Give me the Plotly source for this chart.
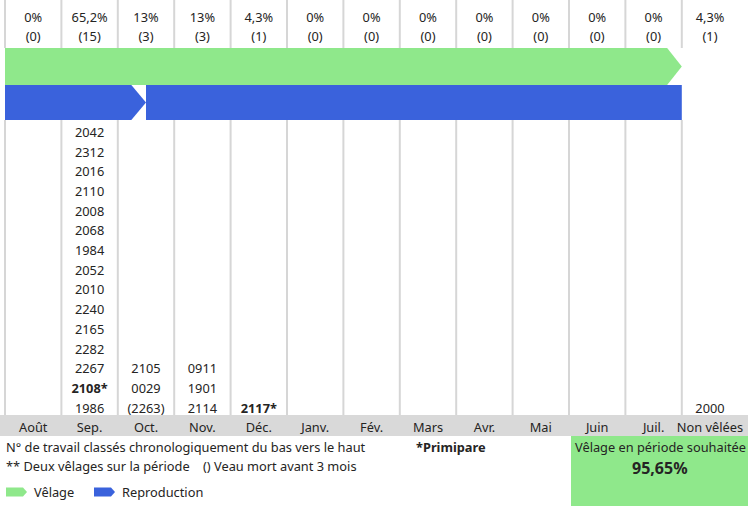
import plotly.graph_objects as go

months = ["Août", "Sep.", "Oct.", "Nov.", "Déc.", "Janv.", "Fév.", "Mars",
          "Avr.", "Mai", "Juin", "Juil.", "Non vêlées"]
pct_labels = ["0%", "65,2%", "13%", "13%", "4,3%", "0%", "0%", "0%",
              "0%", "0%", "0%", "0%", "4,3%"]
counts = [0, 15, 3, 3, 1, 0, 0, 0, 0, 0, 0, 0, 1]

# n° de travail, du bas vers le haut ; "*" = primipare
cow_ids = {
    "Sep.": ["1986", "2108*", "2267", "2282", "2165", "2240", "2010", "2052",
             "1984", "2068", "2008", "2110", "2016", "2312", "2042"],
    "Oct.": ["(2263)", "0029", "2105"],
    "Nov.": ["2114", "1901", "0911"],
    "Déc.": ["2117*"],
    "Non vêlées": ["2000"],
}

# périodes en mois (index de colonne)
velage_periods = [(0, 12)]
repro_periods = [(0, 2.5), (2.5, 12)]
velage_rate = "95,65%"

W, H = 748, 506
X0, COL = 5, 56.4
FONT = "Noto Sans"
FS = 12.8
TXT = "#252423"
GREEN = "#8fe88b"
BLUE = "#3a62dc"
GRID = "#d6d6d6"


def px2x(px):
    return (px - X0) / COL


fig = go.Figure()

# bandes vêlage / reproduction
def band(periods, y0, y1, color, arrows):
    a = 0.26
    for (x0, x1), arrow in zip(periods, arrows):
        if arrow:
            xs = [x0, x1 - a, x1, x1 - a, x0, x0]
            ys = [y0, y0, (y0 + y1) / 2, y1, y1, y0]
        else:
            xs = [x0, x1, x1, x0, x0]
            ys = [y0, y0, y1, y1, y0]
        fig.add_trace(go.Scatter(x=xs, y=ys, fill="toself", fillcolor=color,
                                 mode="lines", line=dict(width=0),
                                 hoverinfo="skip", showlegend=False))


band(velage_periods, 48, 85, GREEN, [True])
band(repro_periods, 85, 120, BLUE, [True, False])

# séparateurs verticaux
for i in range(len(months)):
    for y0, y1 in [(0, 48), (120, 415)]:
        fig.add_shape(type="line", x0=i, x1=i, y0=y0, y1=y1,
                      line=dict(color=GRID, width=2), layer="below")

# bandeau des mois
fig.add_shape(type="rect", xref="paper", x0=0, x1=1, y0=415, y1=436,
              fillcolor="#d9d9d9", line=dict(width=0), layer="below")

centers = [i + 0.5 for i in range(len(months))]
tf = dict(family=FONT, size=FS, color=TXT)

# en-têtes % et effectifs
fig.add_trace(go.Scatter(
    x=centers, y=[19] * len(months), mode="text", text=pct_labels,
    textfont=tf, hoverinfo="skip", showlegend=False))
fig.add_trace(go.Scatter(
    x=centers, y=[38] * len(months), mode="text",
    text=[f"({c})" for c in counts],
    textfont=tf, hoverinfo="skip", showlegend=False))

# numéros de travail
for m, ids in cow_ids.items():
    i = months.index(m)
    labels = [f"<b>{v}</b>" if v.endswith("*") else v for v in ids]
    fig.add_trace(go.Scatter(
        x=[i + 0.5] * len(ids), y=[409.5 - k * 19.7 for k in range(len(ids))],
        mode="text", text=labels, textfont=tf,
        hoverinfo="skip", showlegend=False))

# mois
fig.add_trace(go.Scatter(
    x=centers, y=[428.5] * len(months), mode="text", text=months,
    textfont=tf, hoverinfo="skip", showlegend=False))

# encadré taux de vêlage
fig.add_shape(type="rect", xref="paper", x0=571 / W, x1=1, y0=436, y1=H,
              fillcolor=GREEN, line=dict(width=0), layer="below")
fig.add_annotation(xref="paper", x=660 / W, y=447, xanchor="center",
                   text="Vêlage en période souhaitée",
                   showarrow=False, font=tf)
fig.add_annotation(xref="paper", x=660 / W, y=468, xanchor="center",
                   text=f"<b>{velage_rate}</b>",
                   showarrow=False, font=dict(family=FONT, size=16, color=TXT))

# notes
notes = [
    (4, 447, "N° de travail classés chronologiquement du bas vers le haut"),
    (4, 466, "** Deux vêlages sur la période    () Veau mort avant 3 mois"),
    (414, 447, "<b>*Primipare</b>"),
]
for px, py, t in notes:
    fig.add_annotation(xref="paper", x=px / W, y=py, text=t, xanchor="left",
                       showarrow=False, font=tf)

# légende
for px, color, name in [(6, GREEN, "Vêlage"), (94, BLUE, "Reproduction")]:
    x0, x1, xt = px2x(px), px2x(px + 21), px2x(px + 17)
    fig.add_shape(type="path",
                  path=f"M {x0},487.5 L {xt},487.5 L {x1},492 L {xt},496.5 L {x0},496.5 Z",
                  fillcolor=color, line=dict(width=0))
    fig.add_annotation(xref="paper", x=(px + 26) / W, y=492, text=name,
                       xanchor="left", showarrow=False, font=tf)

fig.update_layout(
    width=W, height=H,
    margin=dict(l=0, r=0, t=0, b=0),
    plot_bgcolor="white", paper_bgcolor="white",
    xaxis=dict(range=[px2x(0), px2x(W)], visible=False, fixedrange=True),
    yaxis=dict(range=[H, 0], visible=False, fixedrange=True),
)

fig.write_html("out.html", config={"displayModeBar": False},
               post_script="document.body.style.margin='0';")
